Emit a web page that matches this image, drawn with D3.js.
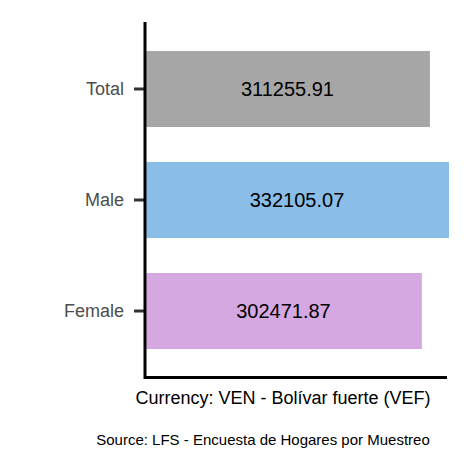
<!DOCTYPE html>
<html><head><meta charset="utf-8">
<script src="https://cdn.jsdelivr.net/npm/d3@7"></script>
<style>body{margin:0;background:#fff}</style></head>
<body><svg id="c" width="472" height="472"></svg>
<script>
const categories = ["Total","Male","Female"];
const values = [311255.91, 332105.07, 302471.87];
const colors = ["#a6a6a6","#8bbde9","#d5a8e2"];
const caption = "Currency: VEN - Bolívar fuerte (VEF)";
const source = "Source:  LFS - Encuesta de Hogares por Muestreo";

const svg = d3.select("#c");
const x = d3.scaleLinear().domain([0, 332105.07]).range([145, 449]);
const y = d3.scaleBand().domain(categories).range([22, 378]).paddingInner(0.315).paddingOuter(0.261);
const font = "Liberation Sans, Arial, sans-serif";

svg.selectAll("rect.bar").data(categories).join("rect")
  .attr("x", x(0)).attr("y", d => y(d)).attr("height", y.bandwidth())
  .attr("width", (d,i) => x(values[i]) - x(0)).attr("fill", (d,i) => colors[i]);

svg.selectAll("text.val").data(categories).join("text")
  .attr("x", (d,i) => (x(0) + x(values[i]))/2).attr("y", d => y(d) + y.bandwidth()/2)
  .attr("dy", "0.35em").attr("text-anchor","middle").attr("font-family", font)
  .attr("font-size", 20).attr("fill","#000").text((d,i) => values[i].toFixed(2));

const ax = svg.append("g").attr("transform","translate(145,0)")
  .call(d3.axisLeft(y).tickSize(11).tickPadding(10));
ax.select(".domain").remove();
ax.selectAll(".tick line").attr("stroke","#333").attr("stroke-width",3);
ax.selectAll(".tick text").attr("font-family",font).attr("font-size",18).attr("fill","#4d4d4d");

svg.append("line").attr("x1",145).attr("x2",145).attr("y1",22).attr("y2",379).attr("stroke","#000").attr("stroke-width",3);
svg.append("line").attr("x1",144).attr("x2",447).attr("y1",377.5).attr("y2",377.5).attr("stroke","#000").attr("stroke-width",3);

svg.append("text").attr("x",283).attr("y",404).attr("text-anchor","middle").attr("font-family",font)
  .attr("font-size",18).attr("fill","#000").text(caption);
svg.append("text").attr("x",263).attr("y",445).attr("text-anchor","middle").attr("font-family",font)
  .attr("font-size",15).attr("fill","#000").text(source);
</script></body></html>
